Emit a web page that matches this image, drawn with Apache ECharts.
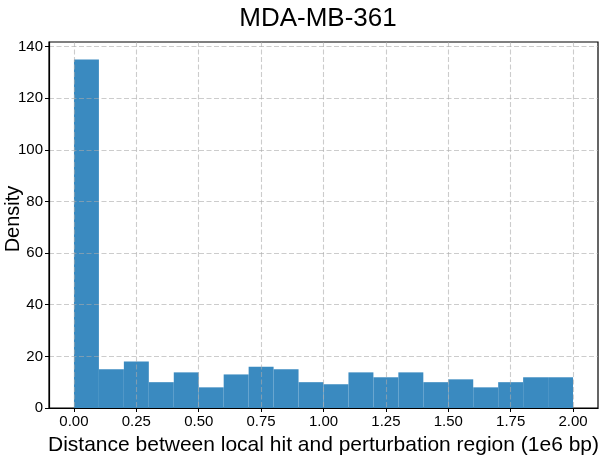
<!DOCTYPE html>
<html>
<head>
<meta charset="utf-8">
<script src="https://cdn.jsdelivr.net/npm/echarts@6/dist/echarts.min.js"></script>
<style>html,body{margin:0;padding:0;background:#fff}#c{width:605px;height:459px}</style>
</head>
<body>
<div id="c"></div>
<script>
const titleText = 'MDA-MB-361';
const xName = 'Distance between local hit and perturbation region (1e6 bp)';
const yName = 'Density';
const binEdges = [0.0, 0.1, 0.2, 0.3, 0.4, 0.5, 0.6, 0.7, 0.8, 0.9, 1.0, 1.1, 1.2, 1.3, 1.4, 1.5, 1.6, 1.7, 1.8, 1.9, 2.0];
const density = [135, 15, 18, 10, 13.8, 8, 13, 16, 15, 10, 9.2, 13.8, 11.9, 13.8, 10, 11.1, 8, 10, 11.9, 11.9];
const xTicks = [0, 0.25, 0.5, 0.75, 1.0, 1.25, 1.5, 1.75, 2.0];
const yTicks = [0, 20, 40, 60, 80, 100, 120, 140];

const chart = echarts.init(document.getElementById('c'), null, {renderer: 'canvas'});
const bars = density.map((d, i) => [binEdges[i], binEdges[i + 1], d]);
const font = 'Liberation Sans, Arial, sans-serif';
const gridLine = {show: true, lineStyle: {color: 'rgba(170,170,170,0.6)', type: [5, 2.5], width: 1.1}};

chart.setOption({
  animation: false,
  backgroundColor: '#fff',
  title: {
    text: titleText, left: 313, top: 1, textAlign: 'center',
    textStyle: {fontFamily: font, fontSize: 26, fontWeight: 'normal', color: '#000'}
  },
  grid: {left: 49, right: 7, top: 42, bottom: 51, show: true, borderColor: '#000', borderWidth: 1.2, containLabel: false, outerBoundsMode: 'none'},
  xAxis: {
    type: 'value', min: -0.1, max: 2.1, z: 5,
    name: xName, nameLocation: 'middle', nameGap: 27, nameMoveOverlap: false,
    nameTextStyle: {fontFamily: font, fontSize: 21, color: '#000'},
    axisLine: {show: true, onZero: false, lineStyle: {color: '#000', width: 1.2}},
    axisTick: {show: true, customValues: xTicks, length: 4, lineStyle: {color: '#000'}},
    axisLabel: {customValues: xTicks, margin: 6, fontFamily: font, fontSize: 15, color: '#000', formatter: v => v.toFixed(2)},
    splitLine: gridLine
  },
  yAxis: {
    type: 'value', min: 0, max: 141.75, z: 5,
    name: yName, nameLocation: 'middle', nameGap: 26, nameMoveOverlap: false,
    nameTextStyle: {fontFamily: font, fontSize: 20, color: '#000', padding: [0, 0, 0, 12]},
    axisLine: {show: true, onZero: false, lineStyle: {color: '#000', width: 1.2}},
    axisTick: {show: true, customValues: yTicks, length: 4, lineStyle: {color: '#000'}},
    axisLabel: {customValues: yTicks, margin: 6, fontFamily: font, fontSize: 15, color: '#000'},
    splitLine: gridLine
  },
  series: [{
    type: 'custom',
    data: bars,
    encode: {x: [0, 1], y: 2},
    renderItem: function (params, api) {
      const p0 = api.coord([api.value(0), api.value(2)]);
      const p1 = api.coord([api.value(1), 0]);
      return {
        type: 'rect',
        shape: {x: p0[0], y: p0[1], width: p1[0] - p0[0], height: p1[1] - p0[1]},
        style: {fill: '#3a8ac0'}
      };
    }
  }]
});
</script>
</body>
</html>
